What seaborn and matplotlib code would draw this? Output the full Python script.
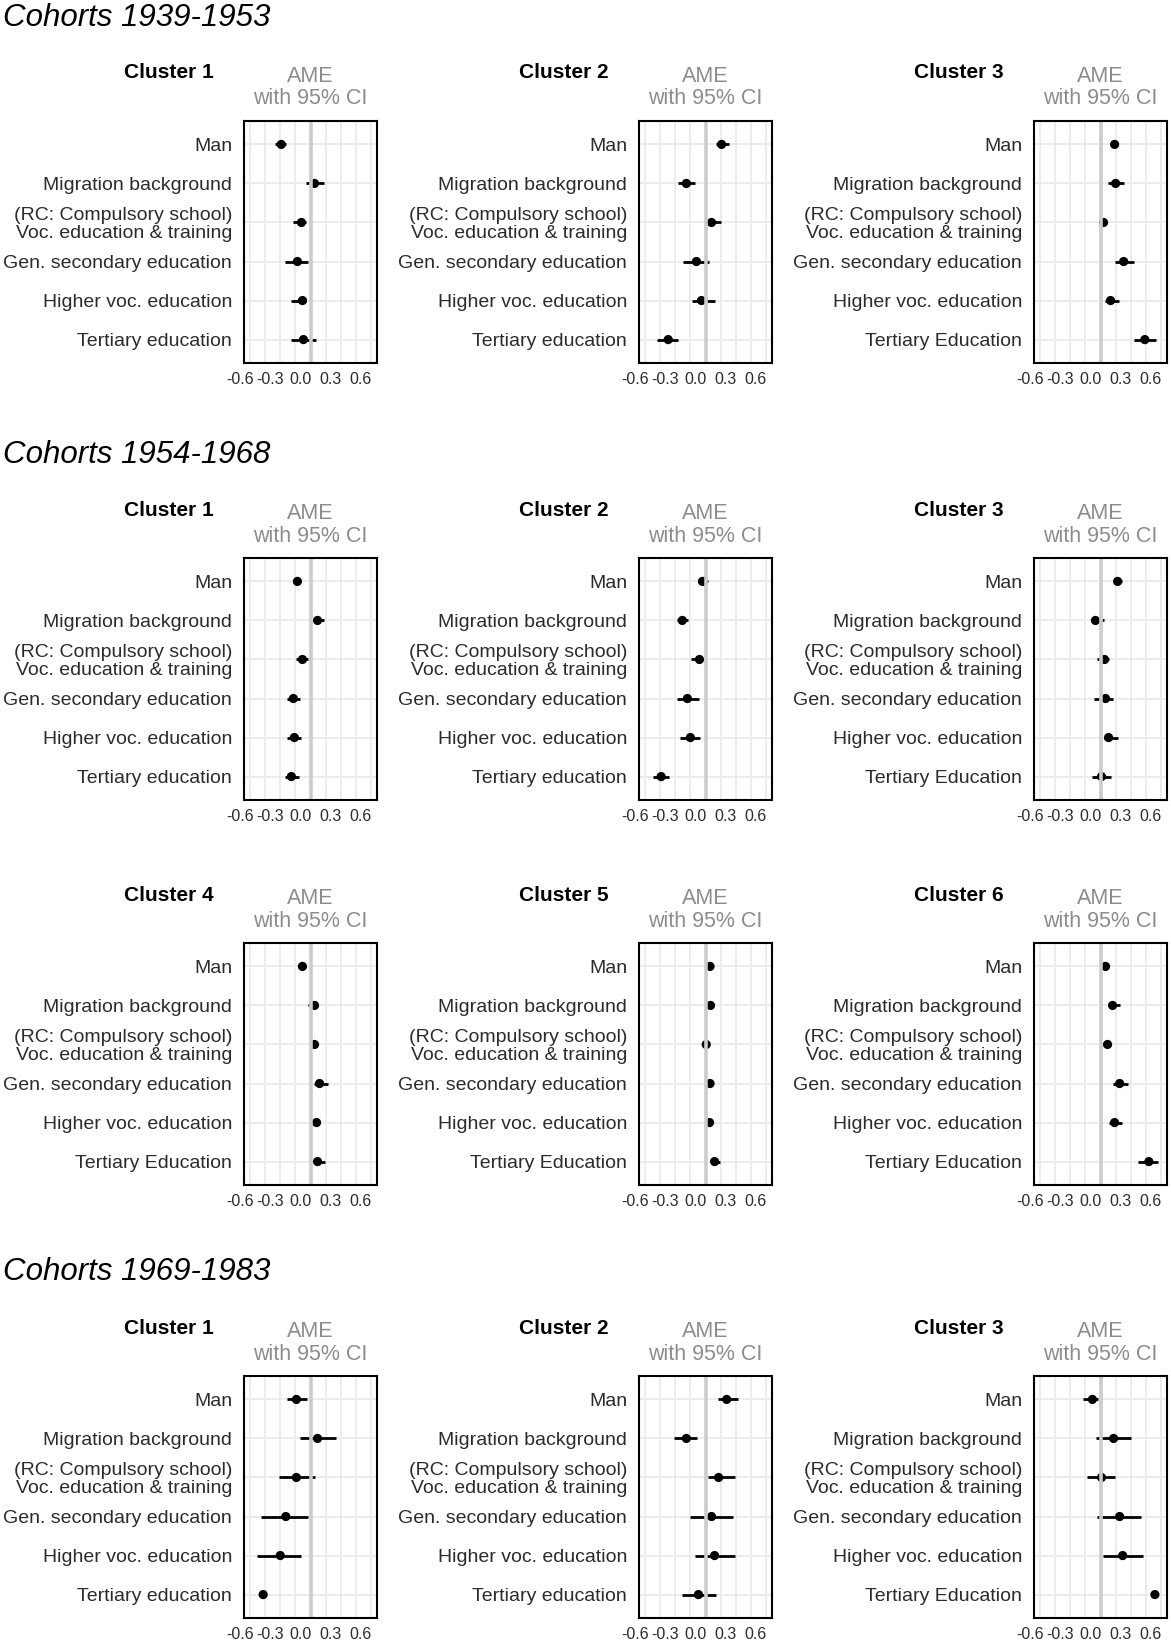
import matplotlib
matplotlib.use("Agg")
import matplotlib.pyplot as plt
import matplotlib.transforms as mtransforms
import pandas as pd
import seaborn as sns

# kategorien (y-achse)
labels_lower = ["Man", "Migration background",
                "(RC: Compulsory school)\nVoc. education & training",
                "Gen. secondary education", "Higher voc. education",
                "Tertiary education"]
labels_upper = labels_lower[:5] + ["Tertiary Education"]

xtick_vals = [-0.6, -0.3, 0.0, 0.3, 0.6]
xtick_labels = ["-0.6", "-0.3", "0.0", "0.3", "0.6"]

# Cohorts 1939-1953, clusters 1-3
c1939_est = [[-0.29, 0.04, -0.09, -0.13, -0.08, -0.07],
             [0.16, -0.19, 0.06, -0.09, -0.04, -0.37],
             [0.14, 0.15, 0.03, 0.23, 0.10, 0.44]]
c1939_lo = [[-0.35, -0.04, -0.17, -0.25, -0.19, -0.19],
            [0.10, -0.27, 0.03, -0.22, -0.13, -0.48],
            [0.11, 0.07, 0.01, 0.14, 0.04, 0.33]]
c1939_hi = [[-0.24, 0.13, -0.04, -0.02, -0.04, 0.05],
            [0.23, -0.10, 0.15, 0.03, 0.09, -0.27],
            [0.16, 0.23, 0.05, 0.33, 0.18, 0.55]]
c1939_upper = [False, False, True]

# Cohorts 1954-1968, clusters 1-6
c1954_est = [[-0.13, 0.07, -0.08, -0.17, -0.16, -0.19],
             [-0.03, -0.23, -0.06, -0.18, -0.15, -0.44],
             [0.17, -0.05, 0.04, 0.05, 0.08, 0.01],
             [-0.08, 0.04, 0.04, 0.09, 0.06, 0.07],
             [0.045, 0.05, 0.007, 0.045, 0.04, 0.09],
             [0.05, 0.12, 0.07, 0.19, 0.14, 0.48]]
c1954_lo = [[-0.155, 0.03, -0.14, -0.235, -0.235, -0.25],
            [-0.07, -0.28, -0.14, -0.28, -0.25, -0.52],
            [0.13, -0.08, -0.03, -0.06, 0.03, -0.08],
            [-0.11, -0.02, 0.02, 0.03, 0.04, 0.03],
            [0.03, 0.035, -0.025, 0.03, 0.025, 0.05],
            [0.03, 0.07, 0.05, 0.12, 0.08, 0.37]]
c1954_hi = [[-0.09, 0.13, -0.02, -0.10, -0.09, -0.11],
            [0.02, -0.17, -0.02, -0.06, -0.05, -0.36],
            [0.21, 0.03, 0.08, 0.12, 0.17, 0.10],
            [-0.06, 0.07, 0.055, 0.17, 0.085, 0.14],
            [0.06, 0.07, 0.035, 0.06, 0.055, 0.14],
            [0.07, 0.19, 0.09, 0.27, 0.21, 0.57]]
c1954_upper = [False, False, True, True, True, True]

# Cohorts 1969-1983, clusters 1-3
c1969_est = [[-0.14, 0.07, -0.14, -0.245, -0.30, -0.47],
             [0.21, -0.19, 0.13, 0.06, 0.09, -0.07],
             [-0.08, 0.13, 0.01, 0.19, 0.22, 0.54]]
c1969_lo = [[-0.235, -0.10, -0.31, -0.49, -0.53, -0.49],
            [0.12, -0.31, 0.02, -0.155, -0.10, -0.235],
            [-0.17, -0.04, -0.13, -0.03, 0.02, 0.52]]
c1969_hi = [[-0.03, 0.25, 0.04, -0.02, -0.09, -0.44],
            [0.32, -0.08, 0.29, 0.27, 0.29, 0.10],
            [-0.02, 0.30, 0.14, 0.40, 0.42, 0.55]]
c1969_upper = [False, False, True]

sns.set_theme(style="white")
plt.rcParams["font.family"] = ["Liberation Sans", "DejaVu Sans"]

W, H = 1171, 1644
fig = plt.figure(figsize=(W / 100, H / 100), dpi=100)

col_left = [244, 639, 1034]
row_top = [121, 558, 943, 1376]
ax_w, ax_h = 133, 242
txt = "#2b2b2b"


def draw_panel(left, top, est, lo, hi, upper, title):
    ax = fig.add_axes([left / W, 1 - (top + ax_h) / H, ax_w / W, ax_h / H])
    labels = labels_upper if upper else labels_lower
    df = pd.DataFrame({"pos": range(len(labels)), "ame": est, "lo": lo, "hi": hi})

    ax.hlines(df["pos"], df["lo"], df["hi"], color="black", lw=2.0, zorder=3)
    sns.scatterplot(data=df, x="ame", y="pos", ax=ax, color="black", s=44,
                    edgecolor="none", legend=False, zorder=4)
    ax.axvline(0, color="#cccccc", lw=2.6, zorder=5)

    ax.set_xlim(-0.66, 0.66)
    ax.set_ylim(5.6, -0.6)
    ax.set_xticks(xtick_vals)
    ax.set_xticklabels(xtick_labels)
    ax.set_xticks([-0.45, -0.15, 0.15, 0.45], minor=True)
    ax.set_yticks(range(len(labels)))
    ax.set_yticklabels(labels)
    ax.set_xlabel("")
    ax.set_ylabel("")

    ax.set_axisbelow(True)
    ax.grid(True, which="both", color="#ebebeb", lw=1.3)
    ax.tick_params(axis="y", length=2.5, width=1, color="#dddddd", pad=6,
                   labelsize=14, labelcolor=txt)
    ax.tick_params(axis="x", which="both", length=2.5, width=1, color="#dddddd",
                   pad=4, labelsize=11.5, labelcolor=txt)
    for lbl in ax.get_yticklabels():
        lbl.set_linespacing(1.02)
    # tick labels in the original sit a bit left of their grid lines
    shift = mtransforms.ScaledTranslation(-10 / 100, 0, fig.dpi_scale_trans)
    for lbl in ax.get_xticklabels():
        lbl.set_transform(lbl.get_transform() + shift)

    for sp in ax.spines.values():
        sp.set_color("black")
        sp.set_linewidth(1.5)
        sp.set_zorder(6)

    ax.annotate(title, xy=(0, 1), xycoords="axes fraction", xytext=(-30, 48),
                textcoords="offset pixels", ha="right", va="center",
                fontsize=15, fontweight="bold", color="black")
    ax.annotate("AME", xy=(0.5, 1), xycoords="axes fraction", xytext=(0, 45),
                textcoords="offset pixels", ha="center", va="center",
                fontsize=15.5, color="#8c8c8c")
    ax.annotate("with 95% CI", xy=(0.5, 1), xycoords="axes fraction", xytext=(0, 22),
                textcoords="offset pixels", ha="center", va="center",
                fontsize=15.5, color="#8c8c8c")
    return ax


for i in range(3):
    draw_panel(col_left[i], row_top[0], c1939_est[i], c1939_lo[i], c1939_hi[i],
               c1939_upper[i], f"Cluster {i + 1}")

for i in range(6):
    draw_panel(col_left[i % 3], row_top[1 + i // 3], c1954_est[i], c1954_lo[i],
               c1954_hi[i], c1954_upper[i], f"Cluster {i + 1}")

for i in range(3):
    draw_panel(col_left[i], row_top[3], c1969_est[i], c1969_lo[i], c1969_hi[i],
               c1969_upper[i], f"Cluster {i + 1}")

for name, y in [("Cohorts 1939-1953", 18), ("Cohorts 1954-1968", 455),
                ("Cohorts 1969-1983", 1272)]:
    fig.text(3 / W, 1 - y / H, name, ha="left", va="center", fontsize=22.5,
             style="italic", color="black")

fig.savefig("out.png", dpi=100)
